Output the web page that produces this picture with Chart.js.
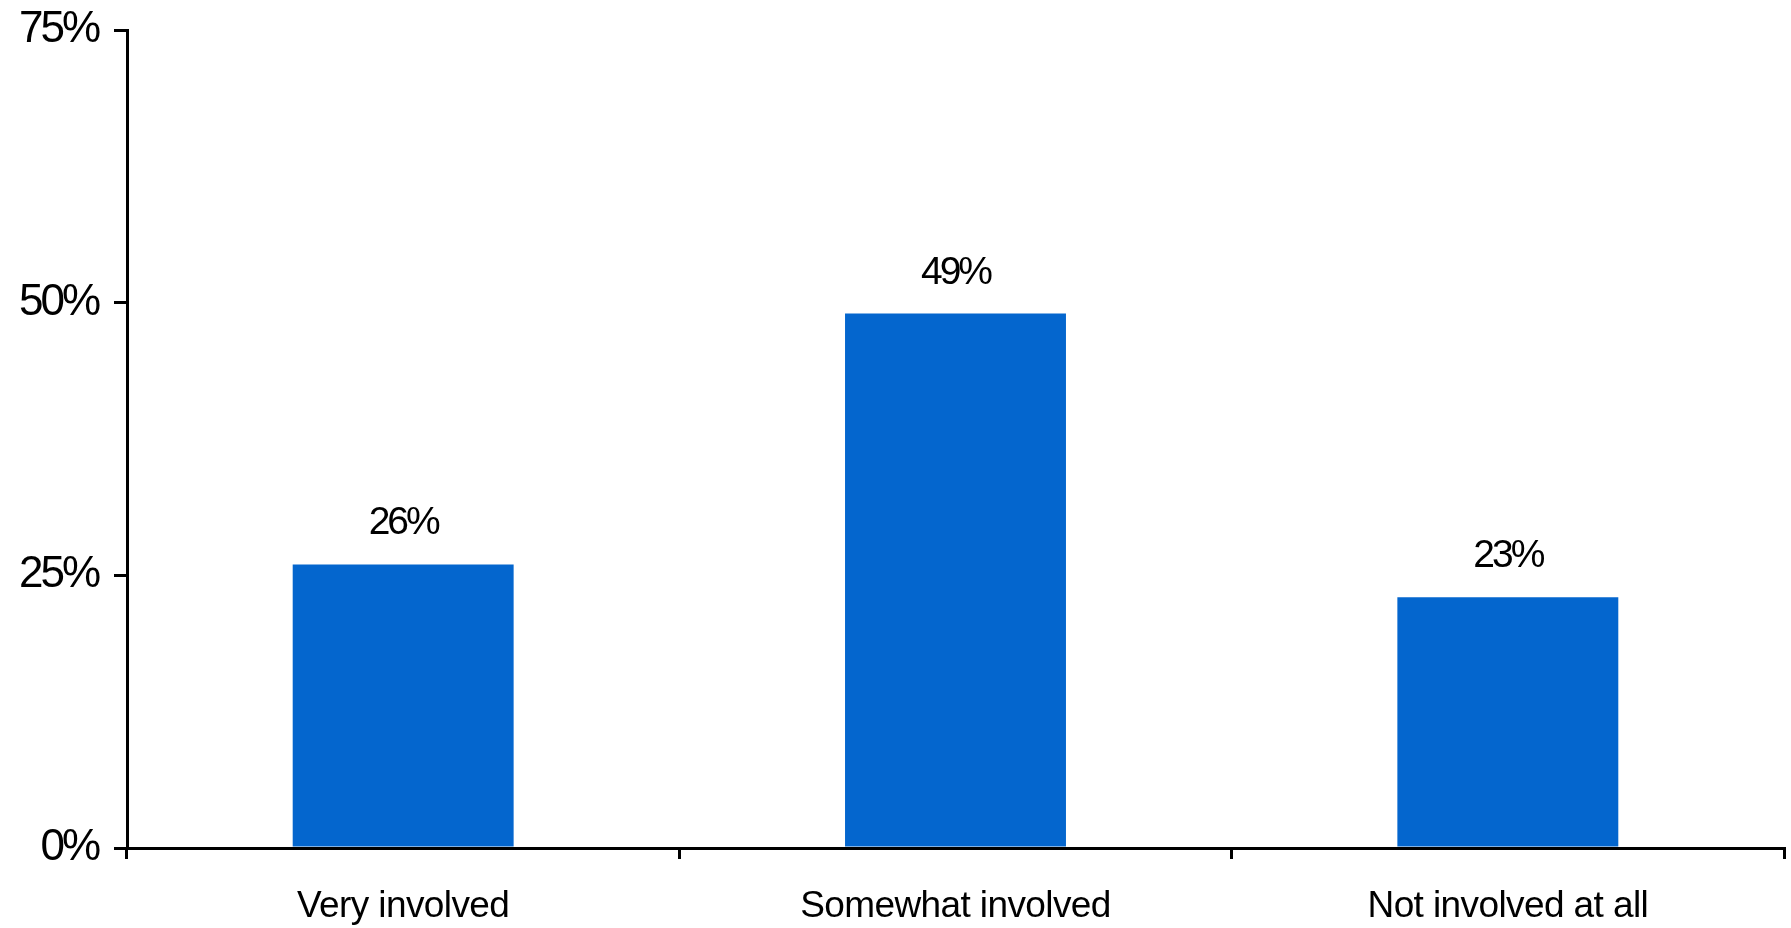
<!DOCTYPE html>
<html>
<head>
<meta charset="utf-8">
<script src="https://cdn.jsdelivr.net/npm/chart.js@4/dist/chart.umd.min.js"></script>
<style>
  html, body { margin: 0; padding: 0; background: #fff; }
  #wrap { width: 1791px; height: 928px; }
</style>
</head>
<body>
<div id="wrap"><canvas id="chart"></canvas></div>
<script>
const categories = ['Very involved', 'Somewhat involved', 'Not involved at all']
const values = [26, 49, 23]
const yTicks = [0, 25, 50, 75]

const FONT = "'Liberation Sans', Arial, sans-serif"

// letter spacing is not a Chart.js font option, so set it on the context
const spacingPlugin = {
  id: 'spacing',
  beforeDraw(chart) {
    chart.ctx.letterSpacing = '-3px'
  },
  afterDatasetsDraw(chart) {
    const ctx = chart.ctx
    const meta = chart.getDatasetMeta(0)
    ctx.save()
    ctx.letterSpacing = '-3px'
    ctx.font = `39px ${FONT}`
    ctx.fillStyle = '#000'
    ctx.textAlign = 'center'
    ctx.textBaseline = 'alphabetic'
    meta.data.forEach((bar, i) => {
      ctx.fillText(values[i] + '%', bar.x, bar.y - 30)
    })
    ctx.restore()
    // x labels are drawn after the datasets (ticks.z: 1)
    ctx.letterSpacing = '-0.6px'
  },
  afterDraw(chart) {
    chart.ctx.letterSpacing = '0px'
  }
}

new Chart(document.getElementById('chart'), {
  type: 'bar',
  data: {
    labels: categories,
    datasets: [{
      data: values,
      backgroundColor: '#0466ce',
      borderWidth: 0,
      barPercentage: 0.4,
      categoryPercentage: 1
    }]
  },
  options: {
    responsive: true,
    maintainAspectRatio: false,
    animation: false,
    layout: { padding: { top: 30, right: 7, left: 0, bottom: 0 } },
    plugins: {
      legend: { display: false },
      tooltip: { enabled: false }
    },
    scales: {
      x: {
        offset: true,
        afterFit(scale) { scale.height = 80 },
        grid: {
          offset: true,
          drawOnChartArea: false,
          color: '#000',
          lineWidth: 3,
          tickLength: 11
        },
        border: { color: '#000', width: 3 },
        ticks: {
          z: 1,
          color: '#000',
          padding: 26,
          maxRotation: 0,
          font: { family: FONT, size: 37 }
        }
      },
      y: {
        min: 0,
        max: 75,
        afterFit(scale) {
          scale.width = 127
          scale.paddingTop = 0
          scale.paddingBottom = 0
        },
        afterBuildTicks(scale) {
          scale.ticks = yTicks.map(v => ({ value: v }))
        },
        grid: {
          drawOnChartArea: false,
          color: '#000',
          lineWidth: 3,
          tickLength: 13
        },
        border: { color: '#000', width: 3 },
        ticks: {
          color: '#000',
          padding: 16,
          font: { family: FONT, size: 44 },
          callback: v => v + '%'
        }
      }
    }
  },
  plugins: [spacingPlugin]
})
</script>
</body>
</html>
